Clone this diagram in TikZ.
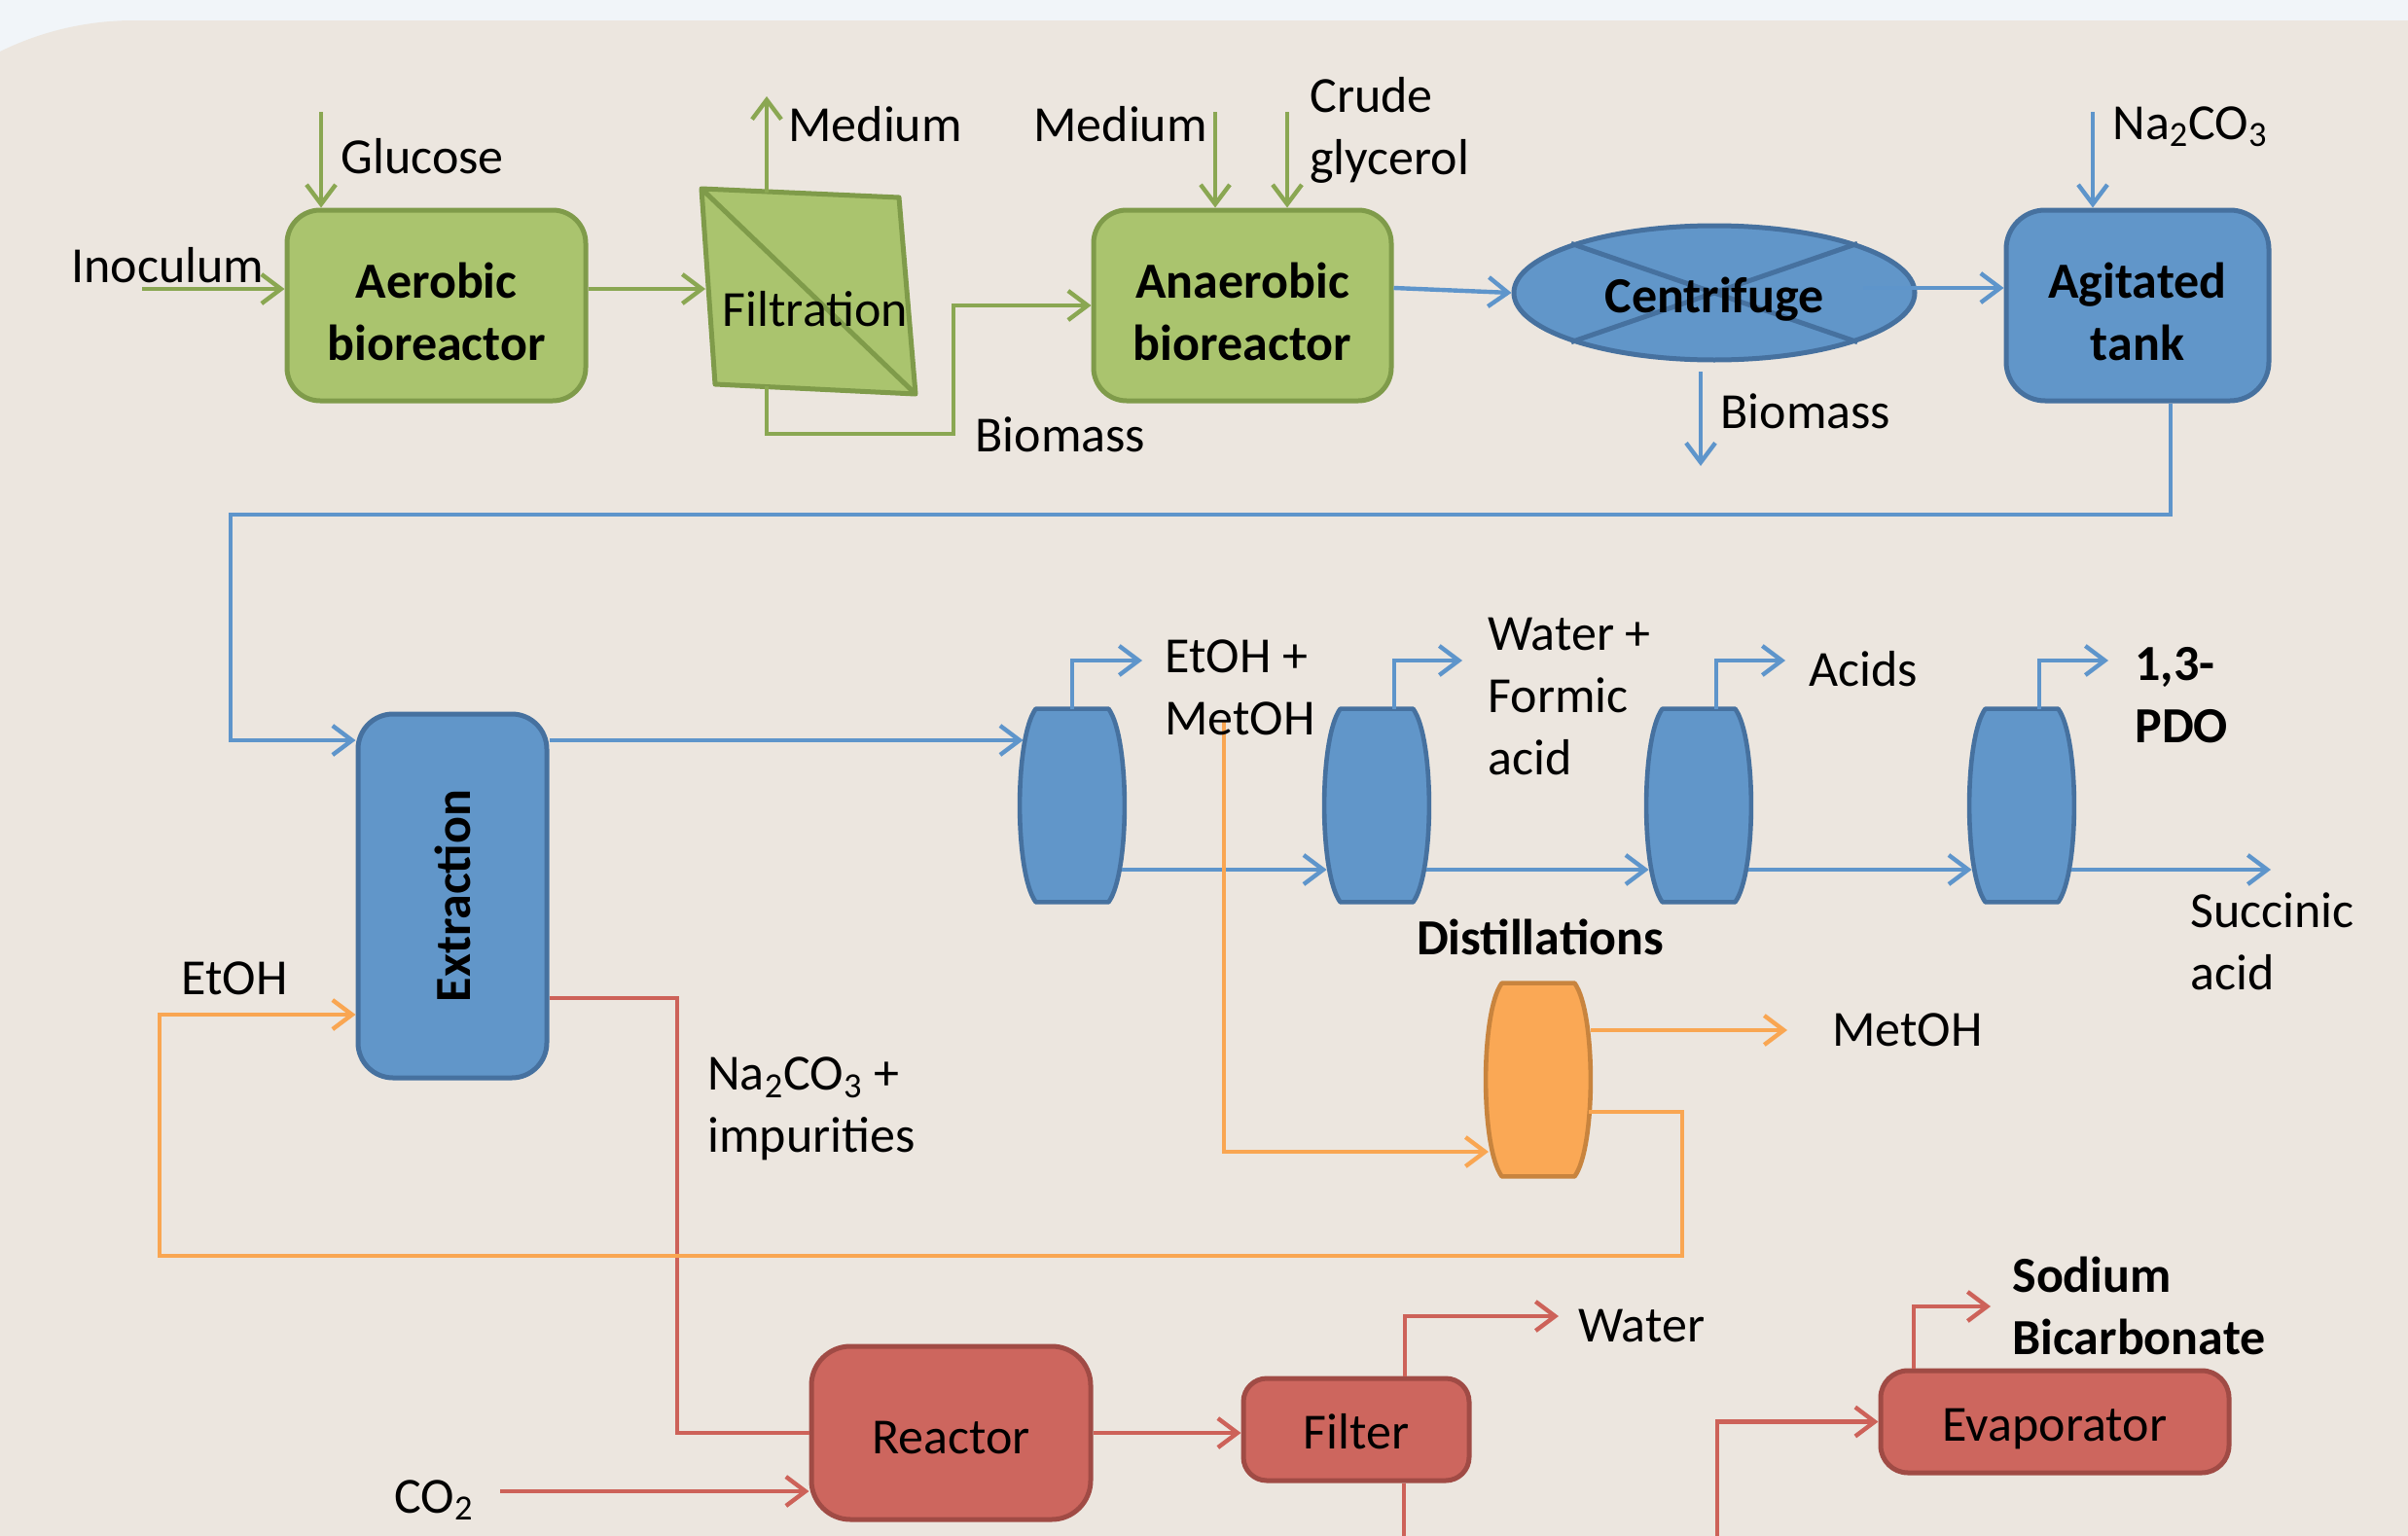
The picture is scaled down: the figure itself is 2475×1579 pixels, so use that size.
\documentclass[tikz,border=0pt]{standalone}
\usepackage{fontspec}
\setmainfont{Carlito}
\usetikzlibrary{arrows.meta,calc,shapes.geometric}
\definecolor{bgtop}{HTML}{F1F5F9}
\definecolor{beige}{HTML}{ECE6DF}
\definecolor{gfill}{HTML}{AAC46E}
\definecolor{gline}{HTML}{7F9B4A}
\definecolor{gflow}{HTML}{8AA752}
\definecolor{bfill}{HTML}{6196C9}
\definecolor{bline}{HTML}{46719F}
\definecolor{bflow}{HTML}{5E95CB}
\definecolor{ofill}{HTML}{FAA855}
\definecolor{oline}{HTML}{C8843E}
\definecolor{oflow}{HTML}{F9A652}
\definecolor{rfill}{HTML}{CD665E}
\definecolor{rline}{HTML}{A04B45}
\definecolor{rflow}{HTML}{CD6259}
\newcommand\fsz{\fontsize{26pt}{32pt}\selectfont}
\newcommand\barrel[3]{%
 \draw[line width=2.3pt, fill=#2, draw=#3, line join=round]
 ($(#1.north west)+(17,0)$) -- ($(#1.north east)+(-17,0)$)
 .. controls ($(#1.north east)+(5,30)$) and ($(#1.south east)+(5,-30)$) .. ($(#1.south east)+(-17,0)$)
 -- ($(#1.south west)+(17,0)$)
 .. controls ($(#1.south west)+(-5,-30)$) and ($(#1.north west)+(-5,30)$) .. cycle;}
\begin{document}
\begin{tikzpicture}[x=0.5pt,y=-0.5pt,
  every node/.style={font=\fsz, inner sep=0pt},
  lbl/.style={anchor=west, align=left},
  unitbox/.style={rounded corners=#1, line width=2.5pt},
  btxt/.style={align=center, font=\fsz\bfseries},
  colnode/.style={minimum width=54pt, minimum height=99pt, draw=none},
  flowline/.style={line width=2.2pt},
  flow/.style={line width=2.2pt, -{Straight Barb[length=10pt,width=15pt]}}]
\useasboundingbox (0,0) rectangle (2475,1579);
\begin{scope}
\clip (0,0) rectangle (2475,1579);
\fill[bgtop] (0,0) rectangle (2475,1579);
\fill[beige, rounded corners=156.5pt] (-175,21) rectangle (2800,1900);
\end{scope}

% ---------- green units
\node[unitbox=17pt, fill=gfill, draw=gline, minimum width=153.5pt, minimum height=98pt] (aer) at (448.5,314) {};
\node[btxt] (aertxt) at (448.5,320) {Aerobic\\bioreactor};
\node[unitbox=17pt, fill=gfill, draw=gline, minimum width=153pt, minimum height=98pt] (anaer) at (1277,314) {};
\node[btxt] (anaertxt) at (1277,320) {Anaerobic\\bioreactor};
\draw[fill=gfill, draw=gline, line width=2.5pt, line join=round] (721,194) -- (924,203) -- (941,405) -- (735,395) -- cycle;
\draw[gline, line width=2.5pt] (721,194) -- (941,405);
\node (filt) at (838,318) {Filtration};

% ---------- blue units
\node[unitbox=20pt, fill=bfill, draw=bline, minimum width=135pt, minimum height=98pt] (tank) at (2197,314) {};
\node[btxt] (tanktxt) at (2197,320) {Agitated\\tank};
\node[ellipse, fill=bfill, draw=bline, line width=2.5pt, minimum width=206pt, minimum height=69pt] (cent) at (1762,301) {};
\draw[bline, line width=2.5pt] (cent.161) -- (cent.-19) (cent.19) -- (cent.-161);
\node[font=\fsz\bfseries] (centtxt) at (1762,308) {Centrifuge};
\node[unitbox=18pt, fill=bfill, draw=bline, minimum width=97pt, minimum height=187pt] (ext) at (465,921) {};
\node[rotate=90, font=\fsz\bfseries] (exttxt) at (ext.center) {Extraction};
\node[colnode] (c1) at (1102,828) {};
\node[colnode] (c2) at (1415,828) {};
\node[colnode] (c3) at (1746,828) {};
\node[colnode] (c4) at (2078,828) {};
\node[colnode] (od) at (1581,1110) {};
\barrel{c1}{bfill}{bline}
\barrel{c2}{bfill}{bline}
\barrel{c3}{bfill}{bline}
\barrel{c4}{bfill}{bline}
\barrel{od}{ofill}{oline}

% ---------- red units
\node[unitbox=20pt, fill=rfill, draw=rline, minimum width=143.5pt, minimum height=89pt] (reac) at (977.5,1473) {};
\node (reactxt) at (977.5,1478) {Reactor};
\node[unitbox=12pt, fill=rfill, draw=rline, minimum width=116pt, minimum height=52.5pt] (filter) at (1394,1469.5) {};
\node (filtertxt) at (1394,1472) {Filter};
\node[unitbox=14pt, fill=rfill, draw=rline, minimum width=179pt, minimum height=52.5pt] (evap) at (2112,1461.5) {};
\node (evaptxt) at (2112,1469) {Evaporator};

% ---------- coordinates
\coordinate (inoc) at (146,297);
\coordinate (glu) at (330,115);
\coordinate (fin) at (725,297);
\coordinate (ftop) at (788,198);
\coordinate (fbot) at (788,397);
\coordinate (medup) at (788,99);
\coordinate (fbc) at (980,446);
\coordinate (med2) at (1249,115);
\coordinate (cru) at (1323,115);
\coordinate (an1) at (1433,296);
\coordinate (ct) at (1915,296);
\coordinate (cb1) at (1748,382);
\coordinate (cb2) at (1748,479);
\coordinate (na) at (2151,115);
\coordinate (tb) at ($(tank.south)+(34,0)$);
\coordinate (loopL) at (237,529);
\coordinate (yx) at (0,761);
\coordinate (o1) at (1174,679);
\coordinate (o2) at (1503,679);
\coordinate (o3) at (1835,679);
\coordinate (o4) at (2167,679);
\coordinate (yb) at (0,894);
\coordinate (sa) at (2334,894);
\coordinate (ymet) at (0,1059);
\coordinate (metend) at (1837,1059);
\coordinate (ylow) at (0,1143);
\coordinate (or1) at (1729,1291);
\coordinate (or2) at (164,1043);
\coordinate (mt) at (1258,740);
\coordinate (odin) at (1530,1184);
\coordinate (ry) at (0,1026);
\coordinate (rx) at (696,1026);
\coordinate (co2) at (514,1533);
\coordinate (fw) at (1602,1353);
\coordinate (fs) at ($(filter.south)+(49,0)$);
\coordinate (fdown) at (1443,1600);
\coordinate (ein) at (1765,1600);
\coordinate (et) at ($(evap.north)+(-145,0)$);
\coordinate (eo) at (2046,1343);

% ---------- green flows
\draw[gflow, flow] (inoc) -- (aer.west |- inoc);
\draw[gflow, flow] (glu) -- (glu |- aer.north);
\draw[gflow, flow] (aer.east |- inoc) -- (fin);
\draw[gflow, flow] (ftop) -- (medup);
\draw[gflow, flow] (fbot) |- (fbc) |- (anaer.west);
\draw[gflow, flow] (med2) -- (med2 |- anaer.north);
\draw[gflow, flow] (cru) -- (cru |- anaer.north);

% ---------- blue flows
\draw[bflow, flow] (anaer.east |- an1) -- (cent.west);
\draw[bflow, flow] (ct) -- (tank.west |- ct);
\draw[bflow, flow] (cb1) -- (cb2);
\draw[bflow, flow] (na) -- (na |- tank.north);
\draw[bflow, flow] (tb) |- (loopL) |- (ext.west |- yx);
\draw[bflow, flow] (ext.east |- yx) -- ($(c1.west |- yx)+(4,0)$);
\draw[bflow, flow] (c1.north) |- (o1);
\draw[bflow, flow] ($(c2.north)+(18,0)$) |- (o2);
\draw[bflow, flow] ($(c3.north)+(18,0)$) |- (o3);
\draw[bflow, flow] ($(c4.north)+(18,0)$) |- (o4);
\draw[bflow, flow] ($(c1.east |- yb)+(-3,0)$) -- ($(c2.west |- yb)+(3,0)$);
\draw[bflow, flow] ($(c2.east |- yb)+(-3,0)$) -- ($(c3.west |- yb)+(3,0)$);
\draw[bflow, flow] ($(c3.east |- yb)+(-3,0)$) -- ($(c4.west |- yb)+(3,0)$);
\draw[bflow, flow] ($(c4.east |- yb)+(-3,0)$) -- (sa);

% ---------- red flows
\draw[rflow, flowline] (ext.east |- ry) -- (rx) |- (reac.west);
\draw[rflow, flow] (co2) -- (reac.west |- co2);
\draw[rflow, flow] (reac.east) -- (filter.west |- reac.east);
\draw[rflow, flow] ($(filter.north)+(50,0)$) |- (fw);
\draw[rflow, flowline] (fs) -- (fs |- fdown);
\draw[rflow, flow] (ein) |- (evap.west);
\draw[rflow, flow] (et) |- (eo);

% ---------- orange flows
\draw[oflow, flow] (od.east |- ymet) -- (metend);
\draw[oflow, flow] ($(od.east |- ylow)+(-2,0)$) -| (or1) -| (or2) -- (ext.west |- or2);
\draw[oflow, flow] (mt) |- (odin);

% ---------- labels
\node[lbl] (lglu) at (350,161) {Glucose};
\node[lbl] (linoc) at (73,273) {Inoculum};
\node[lbl] (lmed1) at (810,128) {Medium};
\node[lbl] (lmed2) at (1062,128) {Medium};
\node[lbl] (lcru) at (1346,134) {Crude\\glycerol};
\node[lbl] (lna) at (2171,130) {Na\textsubscript{2}CO\textsubscript{3}};
\node[lbl] (lbio1) at (1002,447) {Biomass};
\node[lbl] (lbio2) at (1768,423) {Biomass};
\node[lbl] (letoh1) at (1197,707) {EtOH +\\MetOH};
\node[lbl] (lwat) at (1529,716) {Water +\\Formic\\acid};
\node[lbl] (lacid) at (1859,688) {Acids};
\node[lbl, font=\fsz\bfseries] (lpdo) at (2194,715) {1,3-\\PDO};
\node[lbl] (lsuc) at (2251,968) {Succinic\\acid};
\node[font=\fsz\bfseries] (ldist) at (1583,963) {Distillations};
\node[lbl] (lmet) at (1883,1059) {MetOH};
\node[lbl] (letoh2) at (186,1006) {EtOH};
\node[lbl] (limp) at (727,1140) {Na\textsubscript{2}CO\textsubscript{3} +\\impurities};
\node[lbl] (lco2) at (405,1542) {CO\textsubscript{2}};
\node[lbl] (lwater) at (1622,1363) {Water};
\node[lbl, font=\fsz\bfseries] (lsod) at (2068,1342) {Sodium\\Bicarbonate};
\end{tikzpicture}
\end{document}
